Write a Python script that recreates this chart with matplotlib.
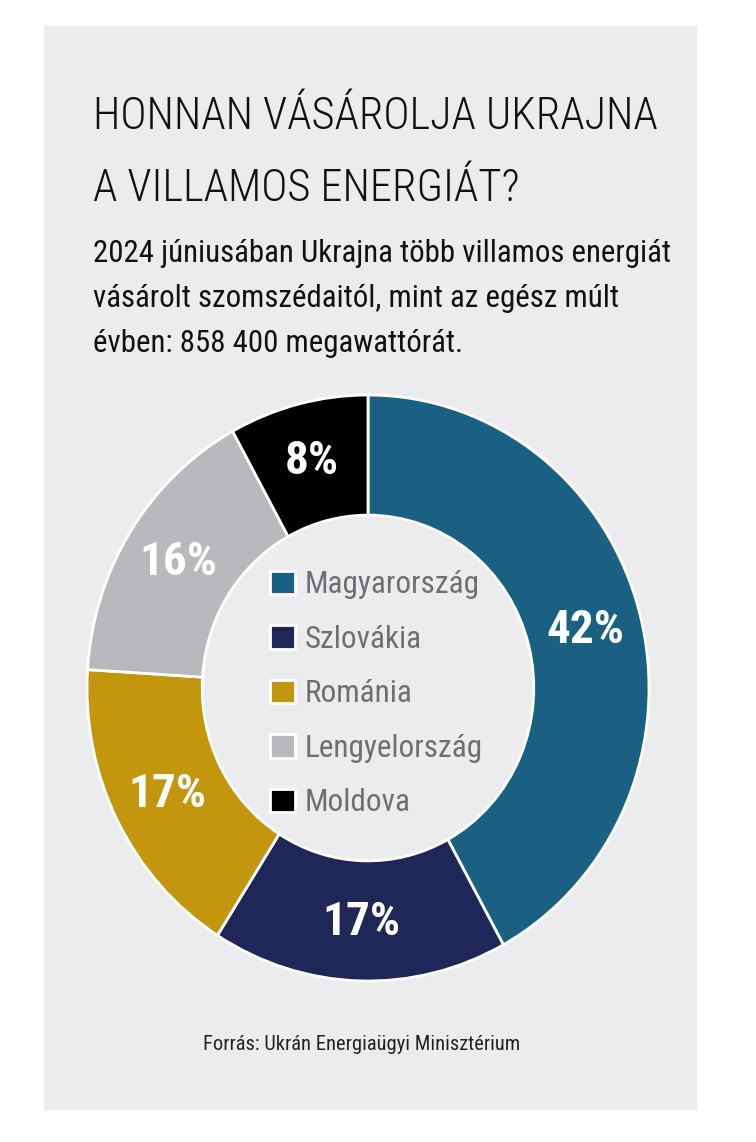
import matplotlib.pyplot as plt
from matplotlib import font_manager
from matplotlib.patches import Rectangle

countries = ['Magyarország', 'Szlovákia', 'Románia', 'Lengyelország', 'Moldova']
shares = [42, 17, 17, 16, 8]
colors = ['#1a6082', '#1f2759', '#c4960e', '#b8b9bc', '#000000']

title_lines = ['HONNAN VÁSÁROLJA UKRAJNA', 'A VILLAMOS ENERGIÁT?']
subtitle_lines = ['2024 júniusában Ukrajna több villamos energiát',
                  'vásárolt szomszédaitól, mint az egész múlt',
                  'évben: 858 400 megawattórát.']
source = 'Forrás: Ukrán Energiaügyi Minisztérium'

installed = {f.name for f in font_manager.fontManager.ttflist}
font = 'DejaVu Sans'
for cand in ['Roboto Condensed', 'Liberation Sans Narrow', 'Open Sans Condensed']:
    if cand in installed:
        font = cand
        break
plt.rcParams['font.family'] = [font, 'DejaVu Sans']

W, H = 756, 1142
fig = plt.figure(figsize=(W / 100, H / 100), dpi=100)
fig.patch.set_facecolor('white')

def fx(x):
    return x / W

def fy(y):
    return 1 - y / H

# gray panel
fig.patches.append(Rectangle((fx(44), fy(1110)), (697 - 44) / W, (1110 - 26) / H,
                             transform=fig.transFigure, facecolor='#ececee',
                             edgecolor='none', zorder=-5))

for i, line in enumerate(title_lines):
    fig.text(fx(93), fy(129 + i * 72), line, fontsize=32, color='#111111',
             va='baseline', ha='left', fontweight='light')
for i, line in enumerate(subtitle_lines):
    fig.text(fx(93), fy(262 + i * 45), line, fontsize=22.2, color='#111111',
             va='baseline', ha='left')
fig.text(fx(362), fy(1050), source, fontsize=14.8, color='#222222',
         va='baseline', ha='center')

# donut (slightly taller than wide, as in the original)
cx, cy, rx, ry = 368, 688, 281, 293
ax = fig.add_axes([fx(cx - rx), fy(cy + ry), 2 * rx / W, 2 * ry / H])
ax.set_facecolor('none')
wedges, texts, autotexts = ax.pie(
    shares, colors=colors, startangle=90, counterclock=False, radius=1,
    wedgeprops=dict(width=0.41, edgecolor='white', linewidth=2),
    autopct=lambda p: f'{p:.0f}%', pctdistance=0.8,
    textprops=dict(color='white', fontsize=34, fontweight='bold'))
ax.set_xlim(-1, 1)
ax.set_ylim(-1, 1)
ax.set_aspect('auto')
ax.axis('off')

leg = ax.legend(wedges, countries, loc='center', bbox_to_anchor=(0.515, 0.49),
                frameon=False, fontsize=22.4, labelcolor='#6d6f73',
                handlelength=0.8, handleheight=0.8, handletextpad=0.3,
                labelspacing=0.82)

fig.savefig('out.png', dpi=100, facecolor='white')
